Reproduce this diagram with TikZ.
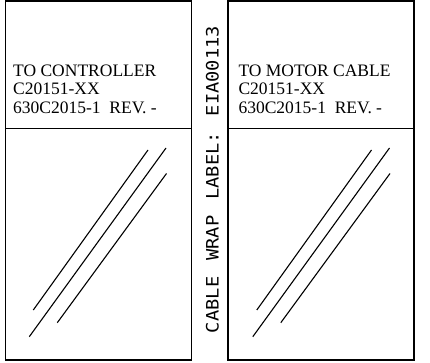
\documentclass[tikz,border=0pt]{standalone}
\usepackage{fontspec}
\setmainfont{Liberation Serif}
\newfontfamily\cadfont{DejaVu Sans Mono}
\newcommand{\cadgap}{\ \kern0.25em}
\begin{document}
\begin{tikzpicture}[x=1pt,y=-1pt,
  boxline/.style={draw=black,line width=1.4pt},
  hatch/.style={draw=black,line width=1.1pt},
  lbl/.style={anchor=base west,inner sep=0pt,font=\fontsize{17.5}{18.7}\selectfont,align=left}]
\useasboundingbox (0,0) rectangle (430,363);
% left label
\draw[boxline] (5.5,1.2) rectangle (191.5,360);
\draw[boxline] (5.5,128.5) -- (191.5,128.5);
\node[lbl] (ltxt1) at (13,76.5) {TO CONTROLLER};
\node[lbl] (ltxt2) at (13,95) {C20151-XX};
\node[lbl] (ltxt3) at (13,113.7) {630C2015-1\ \ REV. -};
\draw[hatch] (33.3,310) -- (148,150);
\draw[hatch] (29.3,336.7) -- (166,148);
\draw[hatch] (57.3,322.7) -- (166.5,173.5);
% right label
\draw[boxline] (228,1.2) rectangle (414,360);
\draw[boxline] (228,128.5) -- (414,128.5);
\node[lbl] (rtxt1) at (238.3,76.5) {TO MOTOR CABLE};
\node[lbl] (rtxt2) at (238.3,95) {C20151-XX};
\node[lbl] (rtxt3) at (238.3,113.7) {630C2015-1\ \ REV. -};
\begin{scope}[xshift=223.5pt]
\draw[hatch] (33.3,310) -- (148,150);
\draw[hatch] (29.3,336.7) -- (166,148);
\draw[hatch] (57.3,322.7) -- (166.5,173.5);
\end{scope}
% vertical text
\node[rotate=90,inner sep=0pt] (wrap) at (212.4,179.5)
  {\resizebox{307pt}{12.7pt}{\cadfont CABLE\cadgap WRAP\cadgap LABEL:\cadgap EIA00113}};
\end{tikzpicture}
\end{document}
